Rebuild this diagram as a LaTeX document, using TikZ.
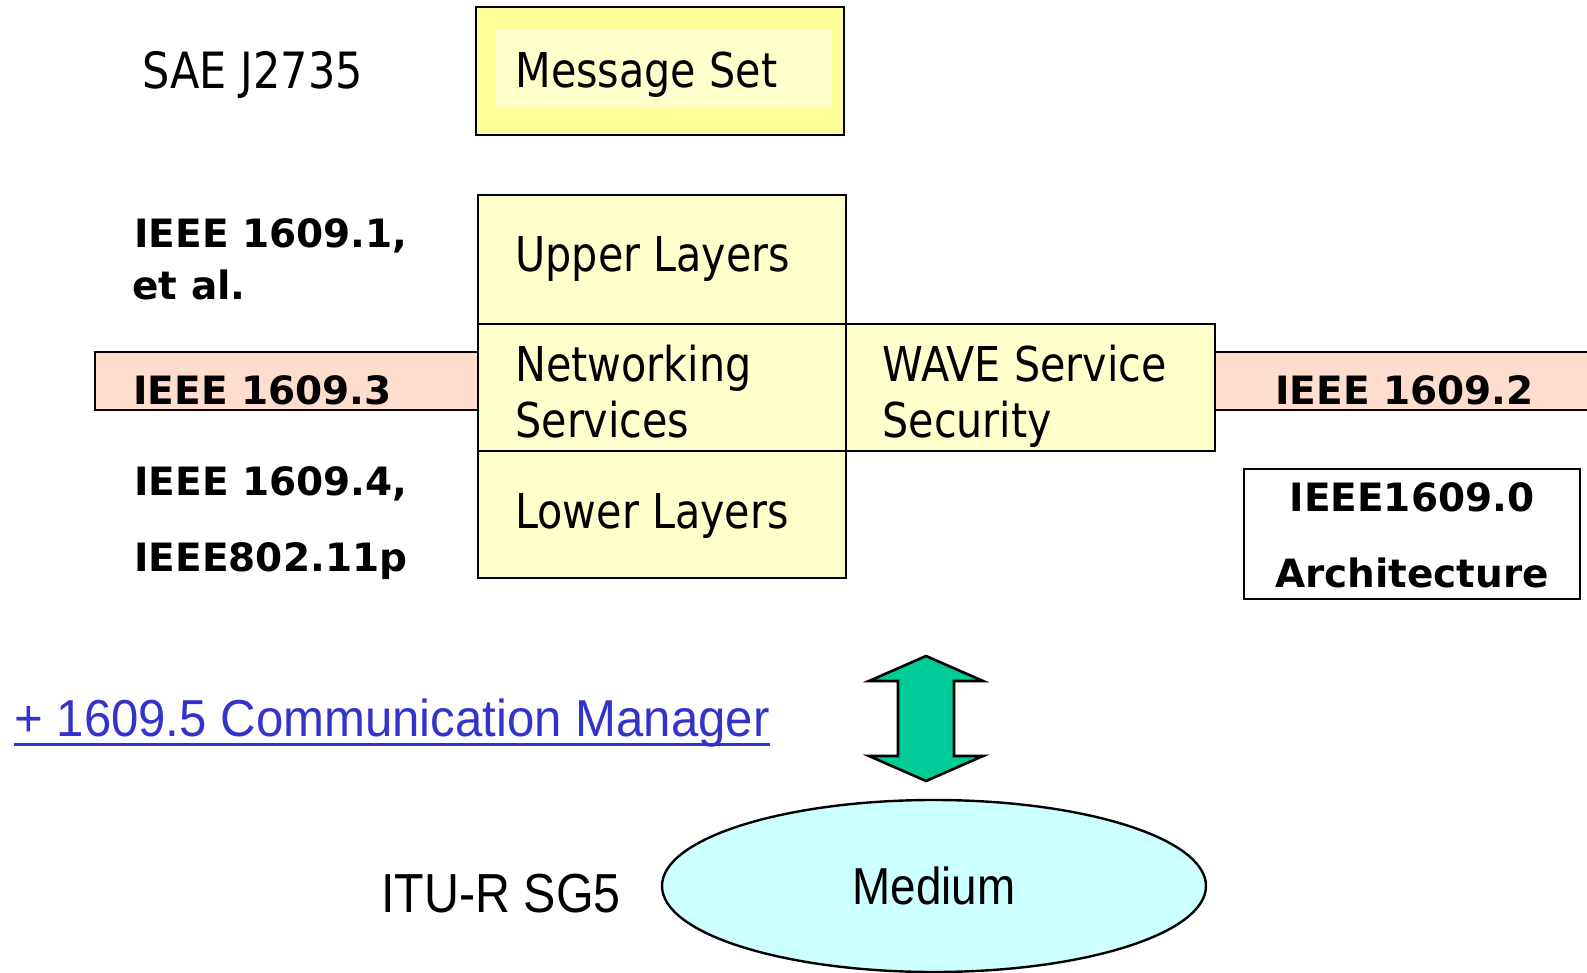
\documentclass[tikz,border=0pt]{standalone}
\usepackage{fontspec}
\setmainfont{DejaVu Sans}
\newfontfamily\tah{DejaVu Sans}[FakeStretch=0.86]
\newfontfamily\narA{Liberation Sans}[FakeStretch=0.88]
\newfontfamily\narB{Liberation Sans}[FakeStretch=0.945]
\usetikzlibrary{shapes.geometric,calc}
\definecolor{yel}{HTML}{FFFF99}
\definecolor{pale}{HTML}{FFFFCC}
\definecolor{peach}{HTML}{FFDDCC}
\definecolor{aqua}{HTML}{CCFFFF}
\definecolor{arrowgreen}{HTML}{00CC99}
\definecolor{linkblue}{HTML}{3333CC}
\tikzset{
  box/.style={draw=black, line width=1.2pt, fill=pale, inner sep=0pt, rectangle},
  lbl/.style={anchor=base west, inner sep=0pt, font=\tah\fontsize{24pt}{28pt}\selectfont},
  blbl/.style={anchor=base west, inner sep=0pt, font=\bfseries\fontsize{19.5pt}{23pt}\selectfont},
}
\begin{document}
\begin{tikzpicture}[x=0.5pt,y=-0.5pt]
\useasboundingbox (0,0) rectangle (1587,973);
% band behind
\node[box, fill=peach, minimum width=752.5pt, minimum height=29pt] (band) at (847.5,381) {};
% message set
\node[box, fill=yel, minimum width=184pt, minimum height=64pt] (msg) at (660,71) {};
\node[fill=pale, inner sep=0pt, minimum width=168pt, minimum height=38.5pt] (msgin) at (664,68.5) {};
% stack
\node[box, minimum width=184pt, minimum height=64.5pt] (upper) at (662,259.5) {};
\node[box, minimum width=184pt, minimum height=63.5pt] (net) at (662,387.5) {};
\node[box, minimum width=184pt, minimum height=63.5pt] (lower) at (662,514.5) {};
\node[box, minimum width=184.5pt, minimum height=63.5pt] (wave) at (1030.5,387.5) {};
\node[box, fill=white, minimum width=168pt, minimum height=65pt] (arch) at (1412,534) {};
% texts
\node[lbl, font=\tah\fontsize{25pt}{29pt}\selectfont] (sae) at (142,89) {SAE J2735};
\node[lbl] (msgt) at (515,88) {Message Set};
\node[lbl] (uppert) at (515,272) {Upper Layers};
\node[lbl] (nett1) at (515,382) {Networking};
\node[lbl] (nett2) at (515,438) {Services};
\node[lbl] (wavet1) at (882,382) {WAVE Service};
\node[lbl] (wavet2) at (882,438) {Security};
\node[lbl] (lowert) at (515,529) {Lower Layers};
\node[blbl] (l11) at (134,248) {IEEE 1609.1,};
\node[blbl] (l12) at (132,300) {et al.};
\node[blbl] (l3) at (133,405) {IEEE 1609.3};
\node[blbl] (l41) at (134,495) {IEEE 1609.4,};
\node[blbl] (l42) at (134,571) {IEEE802.11p};
\node[blbl] (l2) at (1275,405) {IEEE 1609.2};
\node[blbl, anchor=base] (l01) at (1412,512) {IEEE1609.0};
\node[blbl, anchor=base] (l02) at (1412,588) {Architecture};
% communication manager
\node[anchor=base west, inner sep=0pt, text=linkblue, font=\narB\fontsize{26pt}{30pt}\selectfont] (cm) at (14,736) {+ 1609.5 Communication Manager};
\draw[linkblue, line width=1.5pt] ($(cm.base west)+(0,8)$) -- ($(cm.base east)+(0,8)$);
% arrow
\draw[line width=1.3pt, fill=arrowgreen, line join=miter] (926,656) -- (983,681) -- (954,681) -- (954,756) -- (983,756) -- (926,781) -- (869,756) -- (898,756) -- (898,681) -- (869,681) -- cycle;
% medium
\node[ellipse, draw=black, line width=1.2pt, fill=aqua, minimum width=272pt, minimum height=86pt, inner sep=0pt, font=\narA\fontsize{26pt}{30pt}\selectfont] (medium) at (934,886) {Medium};
\node[anchor=base west, inner sep=0pt, font=\narA\fontsize{27.5pt}{32pt}\selectfont] (itu) at (381,912) {ITU-R SG5};
\end{tikzpicture}
\end{document}
